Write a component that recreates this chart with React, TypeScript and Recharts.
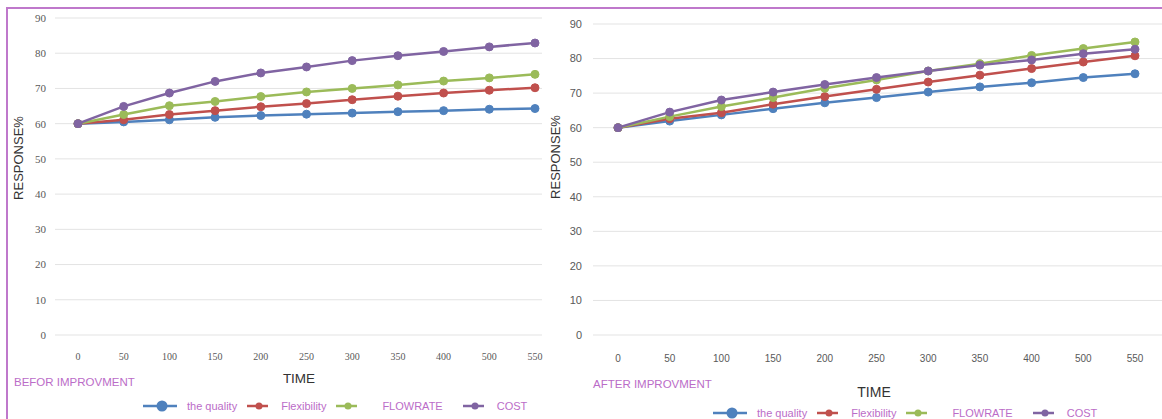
import React from 'react';
import { LineChart, Line, XAxis, YAxis, CartesianGrid } from 'recharts';

// x tick labels (TIME)
const timeLabels = ['0', '50', '100', '150', '200', '250', '300', '350', '400', '500', '550'];
const yTicks = [0, 10, 20, 30, 40, 50, 60, 70, 80, 90];

// BEFOR IMPROVMENT
const beforeQuality = [60, 60.5, 61.1, 61.8, 62.3, 62.7, 63.0, 63.4, 63.7, 64.1, 64.3];
const beforeFlexibility = [60, 61.1, 62.6, 63.7, 64.8, 65.7, 66.8, 67.8, 68.7, 69.5, 70.2];
const beforeFlowrate = [60, 62.6, 65.1, 66.3, 67.7, 69.0, 70.0, 71.0, 72.1, 73.0, 74.0];
const beforeCost = [60, 64.9, 68.7, 72.0, 74.4, 76.1, 77.9, 79.3, 80.5, 81.8, 82.9];

// AFTER IMPROVMENT
const afterQuality = [60, 61.9, 63.7, 65.5, 67.2, 68.7, 70.3, 71.8, 73.0, 74.5, 75.6];
const afterFlexibility = [60, 62.6, 64.3, 66.8, 69.0, 71.1, 73.2, 75.2, 77.1, 79.0, 80.8];
const afterFlowrate = [60, 63.2, 66.1, 68.7, 71.4, 73.8, 76.4, 78.5, 80.9, 82.9, 84.8];
const afterCost = [60, 64.5, 68.0, 70.3, 72.5, 74.5, 76.4, 78.1, 79.6, 81.4, 82.7];

const series = [
  { key: 'quality', name: 'the quality', color: '#4f81bd' },
  { key: 'flexibility', name: 'Flexibility', color: '#c0504d' },
  { key: 'flowrate', name: 'FLOWRATE', color: '#9bbb59' },
  { key: 'cost', name: 'COST', color: '#8064a2' },
];

const buildRows = (q: number[], f: number[], fl: number[], c: number[]) =>
  timeLabels.map((t, i) => ({ time: t, quality: q[i], flexibility: f[i], flowrate: fl[i], cost: c[i] }));

const beforeData = buildRows(beforeQuality, beforeFlexibility, beforeFlowrate, beforeCost);
const afterData = buildRows(afterQuality, afterFlexibility, afterFlowrate, afterCost);

const PURPLE_TEXT = '#bb6cc8';

const LegendRow: React.FC<{ left: number; top: number }> = ({ left, top }) => (
  <div style={{ position: 'absolute', left, top, display: 'flex', alignItems: 'center', fontFamily: 'Liberation Sans, Arial, sans-serif', fontSize: 11, color: PURPLE_TEXT, whiteSpace: 'nowrap' }}>
    {series.map((s, i) => {
      const big = i === 0;
      const w = big ? 37 : 24;
      return (
        <div key={s.key} style={{ display: 'flex', alignItems: 'center', marginRight: i === 2 ? 20 : 10 }}>
          <svg width={w} height={12} style={{ marginRight: big ? 7 : 10 }}>
            <line x1={0} y1={6} x2={w - 3} y2={6} stroke={s.color} strokeWidth={2.5} />
            <circle cx={big ? 19 : 12} cy={6} r={big ? 5.5 : 3.5} fill={s.color} />
          </svg>
          <span style={{ marginLeft: i === 2 ? 12 : 0 }}>{s.name}</span>
        </div>
      );
    })}
  </div>
);

interface PanelProps {
  data: any[];
  left: number;
  width: number;
  top: number;
  bottom: number;
  right: number;
  yWidth: number;
  padLeft: number;
  padRight: number;
  xTickMargin: number;
  yTickMargin: number;
  tickFont: string;
}

const Panel: React.FC<PanelProps> = ({ data, left, width, top, bottom, right, yWidth, padLeft, padRight, xTickMargin, yTickMargin, tickFont }) => (
  <div style={{ position: 'absolute', left, top: 0 }}>
    <LineChart width={width} height={419} data={data} margin={{ top, right, left: 0, bottom }}>
      <CartesianGrid vertical={false} stroke="#e3e3e3" />
      <XAxis
        dataKey="time"
        height={30}
        axisLine={false}
        tickLine={false}
        tickSize={0}
        tickMargin={xTickMargin}
        interval={0}
        padding={{ left: padLeft, right: padRight }}
        tick={{ fontSize: 10, fill: '#595959', fontFamily: tickFont }}
      />
      <YAxis
        domain={[0, 90]}
        ticks={yTicks}
        width={yWidth}
        axisLine={false}
        tickLine={false}
        tickSize={0}
        tickMargin={yTickMargin}
        tick={{ fontSize: 11, fill: '#595959', fontFamily: tickFont }}
      />
      {series.map(s => (
        <Line
          key={s.key}
          dataKey={s.key}
          name={s.name}
          type="linear"
          stroke={s.color}
          strokeWidth={2.5}
          dot={{ r: 4, fill: s.color, stroke: s.color, strokeWidth: 1 }}
          isAnimationActive={false}
        />
      ))}
    </LineChart>
  </div>
);

const titleStyle: React.CSSProperties = { position: 'absolute', fontFamily: 'Liberation Sans, Arial, sans-serif', color: '#333', whiteSpace: 'nowrap' };

export default function App() {
  return (
    <div style={{ position: 'absolute', left: 0, top: 0, width: 1162, height: 419, background: '#fff', overflow: 'hidden' }}>
      {/* purple frame */}
      <div style={{ position: 'absolute', left: 6, top: 7, width: 1160, height: 420, borderTop: '2px solid #bf78cb', borderLeft: '2px solid #bf78cb' }} />

      <Panel data={beforeData} left={0} width={580} top={18} bottom={54} right={38} yWidth={55}
        padLeft={23} padRight={7} xTickMargin={18} yTickMargin={9} tickFont="Liberation Serif, serif" />
      <Panel data={afterData} left={540} width={624} top={24} bottom={54} right={0} yWidth={53}
        padLeft={25} padRight={29} xTickMargin={20} yTickMargin={11} tickFont="Liberation Sans, Arial, sans-serif" />

      {/* axis titles */}
      <div style={{ ...titleStyle, left: 18, top: 158, fontSize: 13, transform: 'translate(-50%, -50%) rotate(-90deg)' }}>RESPONSE%</div>
      <div style={{ ...titleStyle, left: 555, top: 157, fontSize: 13, transform: 'translate(-50%, -50%) rotate(-90deg)' }}>RESPONSE%</div>
      <div style={{ ...titleStyle, left: 299, top: 378, fontSize: 13.5, transform: 'translate(-50%, -50%)' }}>TIME</div>
      <div style={{ ...titleStyle, left: 874, top: 392, fontSize: 14, transform: 'translate(-50%, -50%)' }}>TIME</div>

      {/* panel captions */}
      <div style={{ ...titleStyle, left: 14, top: 376, fontSize: 11.5, color: PURPLE_TEXT }}>BEFOR IMPROVMENT</div>
      <div style={{ ...titleStyle, left: 593, top: 378, fontSize: 11.5, color: PURPLE_TEXT }}>AFTER IMPROVMENT</div>

      <LegendRow left={143} top={400} />
      <LegendRow left={713} top={407} />
    </div>
  );
}
